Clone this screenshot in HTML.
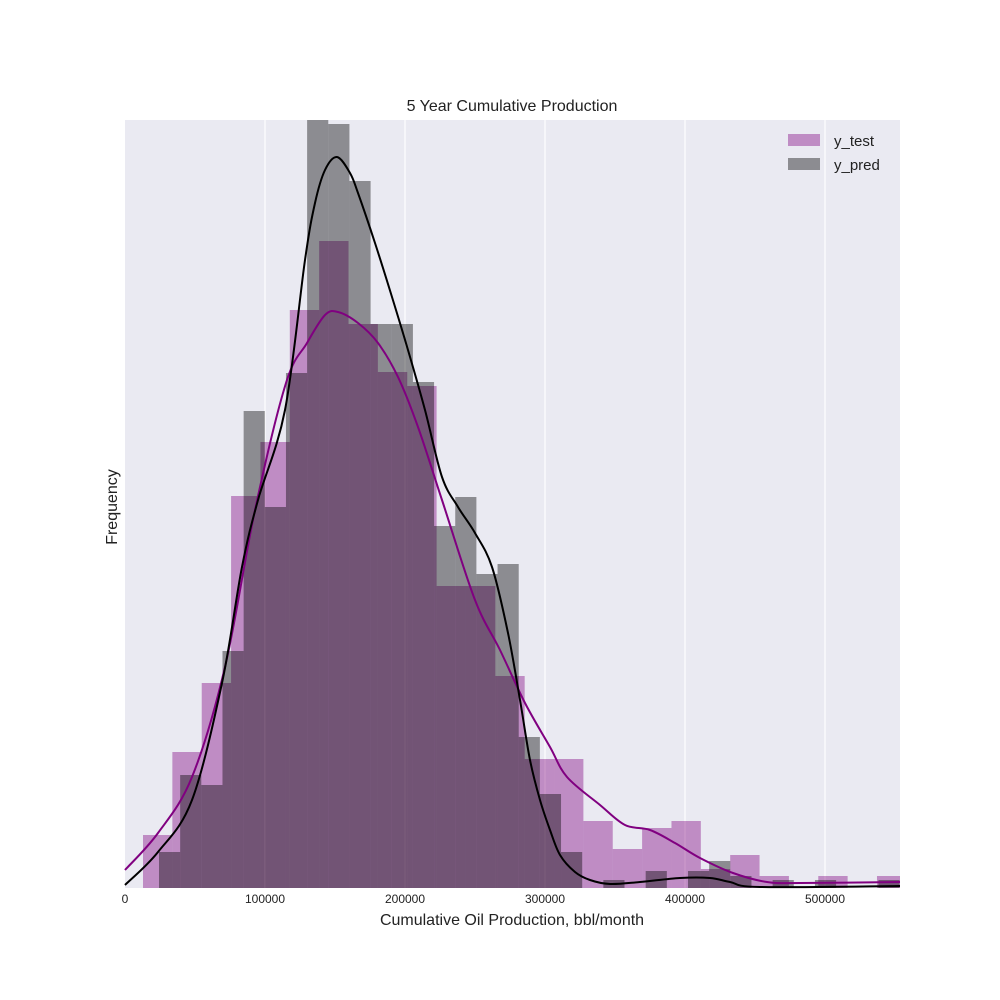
<!DOCTYPE html>
<html><head><meta charset="utf-8"><style>
html,body{margin:0;padding:0;background:#fff;}
svg{display:block;font-family:"Liberation Sans",Arial,sans-serif;}
</style></head><body>
<svg id="chart" width="1000" height="1000">
  <rect x="125" y="120" width="775" height="768" fill="#EAEAF2"/>
  <g id="grid"></g>
  <g id="bars"></g>
  <g id="lines"></g>
  <g id="ticks"></g>
  <text x="512" y="111" font-size="16" text-anchor="middle" fill="#222">5 Year Cumulative Production</text>
  <text x="512" y="925" font-size="16" text-anchor="middle" fill="#222">Cumulative Oil Production, bbl/month</text>
  <text x="117" y="507" font-size="16" text-anchor="middle" fill="#222" transform="rotate(-90 117 507)">Frequency</text>
  <g>
    <g>
      <rect x="788" y="134" width="32" height="12" fill="rgba(128,0,128,0.4)"/>
      <text x="834" y="146" font-size="15" fill="#222">y_test</text>
    </g>
    <g>
      <rect x="788" y="158" width="32" height="12" fill="rgba(0,0,0,0.4)"/>
      <text x="834" y="170" font-size="15" fill="#222">y_pred</text>
    </g>
  </g>
</svg>
<script>
const xTicks = [0, 100000, 200000, 300000, 400000, 500000];
const testBinStart = 12857;
const testBinWidth = 20971;
const testCounts = [53,136,205,392,446,578,647,564,516,502,302,302,212,129,129,67,39,60,67,19,33,12,0,12,0,12];
const predBinStart = 24286;
const predBinWidth = 15114;
const predCounts = [36,113,103,237,477,381,515,768,764,707,564,564,506,362,391,314,324,151,94,36,0,8,0,17,0,17,27,12,0,8,0,8,0,0,8];
const testKdeX = [0,23571,47857,71429,92857,115000,130000,142857,152143,166429,180714,195000,209286,226429,250000,267857,285714,303571,315714,339286,357143,375000,392857,410714,434286,458571,482143,553571];
const testKdeY = [18,55,111,221,378,505,545,573,576,565,545,511,461,388,288,238,185,141,111,83,63,58,45,30,15,6,5,6];
const predKdeX = [0,23571,47857,69286,83571,95000,114286,128571,135714,142857,151429,160714,166429,178571,190714,202143,214286,226429,237857,250000,262143,273571,282143,289286,296429,303571,310714,321429,332143,346429,367857,396429,417857,432143,453571,553571];
const predKdeY = [3,36,88,205,321,388,478,628,685,718,731,715,695,645,591,538,478,411,381,355,321,255,188,128,88,58,33,16,8,4,6,10,10,6,1,2];

const X0=125, X1=900, Y0=888, Y1=120, XMAX=553571, YMAX=768;
const xs = v => X0 + v / XMAX * (X1 - X0);
const ys = v => Y0 - v / YMAX * (Y0 - Y1);
const NS = "http://www.w3.org/2000/svg";
function mk(tag, parent){ const e=document.createElementNS(NS,tag); parent.appendChild(e); return e; }

const grid=document.getElementById('grid'), ticks=document.getElementById('ticks');
xTicks.forEach(t=>{
  if(t>0){
    const l=mk('line',grid);
    
    
    l.setAttribute('x1',xs(t));l.setAttribute('x2',xs(t));l.setAttribute('y1',Y1);l.setAttribute('y2',Y0);
    l.setAttribute('stroke','#fff');l.setAttribute('stroke-width','1.2');
  }
  const tx=mk('text',ticks);
  
  
  tx.setAttribute('x',xs(t));tx.setAttribute('y',903);tx.setAttribute('font-size','12');
  tx.setAttribute('text-anchor','middle');tx.setAttribute('fill','#222');
  tx.textContent=t;
});

const bars=document.getElementById('bars');
function drawBars(counts,start,width,fill,name){
  counts.forEach((c,i)=>{
    if(c<=0) return;
    const a=start+i*width, b=Math.min(a+width,XMAX);
    const r=mk('rect',bars);
    
    
    r.setAttribute('x',xs(a));r.setAttribute('width',xs(b)-xs(a));
    r.setAttribute('y',ys(c));r.setAttribute('height',Y0-ys(c));
    r.setAttribute('fill',fill);
  });
}
drawBars(testCounts,testBinStart,testBinWidth,'rgba(128,0,128,0.4)','bar-y-test');
drawBars(predCounts,predBinStart,predBinWidth,'rgba(0,0,0,0.4)','bar-y-pred');

const lines=document.getElementById('lines');
function drawLine(xa,ya,color,name){
  const p=mk('path',lines);
  
  
  const pts=xa.map((x,i)=>[xs(x),ys(ya[i])]);
  let d='M'+pts[0][0]+','+pts[0][1];
  for(let i=0;i<pts.length-1;i++){
    const p0=pts[Math.max(0,i-1)],p1=pts[i],p2=pts[i+1],p3=pts[Math.min(pts.length-1,i+2)];
    const c1=[p1[0]+(p2[0]-p0[0])/6,p1[1]+(p2[1]-p0[1])/6];
    const c2=[p2[0]-(p3[0]-p1[0])/6,p2[1]-(p3[1]-p1[1])/6];
    d+=' C'+c1+' '+c2+' '+p2;
  }
  p.setAttribute('d',d);p.setAttribute('fill','none');
  p.setAttribute('stroke',color);p.setAttribute('stroke-width','2');
}
drawLine(testKdeX,testKdeY,'#800080','kde-line-y-test');
drawLine(predKdeX,predKdeY,'#000000','kde-line-y-pred');
</script>
</body></html>
